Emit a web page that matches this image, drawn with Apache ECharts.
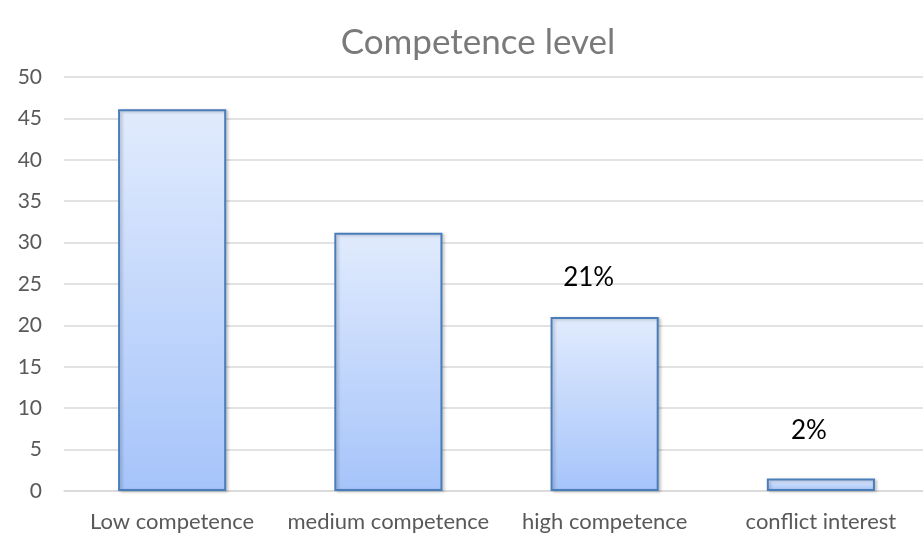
<!DOCTYPE html>
<html>
<head>
<meta charset="utf-8">
<title>Competence level</title>
<script src="https://cdn.jsdelivr.net/npm/echarts@6/dist/echarts.min.js"></script>
<style>
  html, body { margin: 0; padding: 0; background: #ffffff; }
  #chart { width: 923px; height: 535px; }
</style>
</head>
<body>
<div id="chart"></div>
<script>
// Share of respondents per competence level
const categories = ['Low competence', 'medium competence', 'high competence', 'conflict interest'];
const values = [46.1, 31.2, 21, 1.5];
// Which bars carry a percentage label
const showLabel = [false, false, true, true];
const yTicks = { min: 0, max: 50, interval: 5 };

const FONT = 'Lato, "Open Sans", sans-serif';
const labelOffsets = [[0, 0], [0, 0], [-16, -22], [-12, -30]];

const chart = echarts.init(document.getElementById('chart'), null, { renderer: 'canvas' });

const barFill = new echarts.graphic.LinearGradient(0, 0, 0, 1, [
  { offset: 0, color: '#e1ebfd' },
  { offset: 1, color: '#a6c4fa' }
]);

chart.setOption({
  animation: false,
  backgroundColor: '#ffffff',
  graphic: [{
    type: 'text',
    x: 478,
    y: 43,
    style: {
      text: 'Competence level',
      fill: '#7a7a7a',
      font: '35px ' + FONT,
      align: 'center',
      verticalAlign: 'middle'
    }
  }],
  // the plot area runs a little past the right edge of the canvas
  grid: { left: 64, width: 865, top: 77, bottom: 44, containLabel: false, outerBoundsMode: 'none' },
  xAxis: {
    type: 'category',
    data: categories,
    axisLine: { lineStyle: { color: '#d9d9d9', width: 1.5 } },
    axisTick: { show: false },
    axisLabel: { color: '#595959', fontSize: 22, fontFamily: FONT, margin: 20, interval: 0, hideOverlap: false }
  },
  yAxis: {
    type: 'value',
    min: yTicks.min,
    max: yTicks.max,
    interval: yTicks.interval,
    axisLine: { show: false },
    axisTick: { show: false },
    splitLine: { lineStyle: { color: '#d9d9d9', width: 1.5 } },
    axisLabel: { color: '#595959', fontSize: 21, fontFamily: FONT, margin: 22 }
  },
  series: [{
    type: 'bar',
    barWidth: '50%',
    data: values.map((v, i) => ({
      value: v,
      label: {
        show: showLabel[i],
        position: 'top',
        offset: labelOffsets[i],
        formatter: p => Math.round(p.value) + '%',
        color: '#000000',
        fontSize: 26,
        fontFamily: FONT
      }
    })),
    itemStyle: {
      color: barFill,
      borderColor: '#4a7ebb',
      borderWidth: 2,
      shadowColor: 'rgba(0,0,0,0.22)',
      shadowBlur: 3,
      shadowOffsetX: 2,
      shadowOffsetY: 1
    }
  }]
});
</script>
</body>
</html>
